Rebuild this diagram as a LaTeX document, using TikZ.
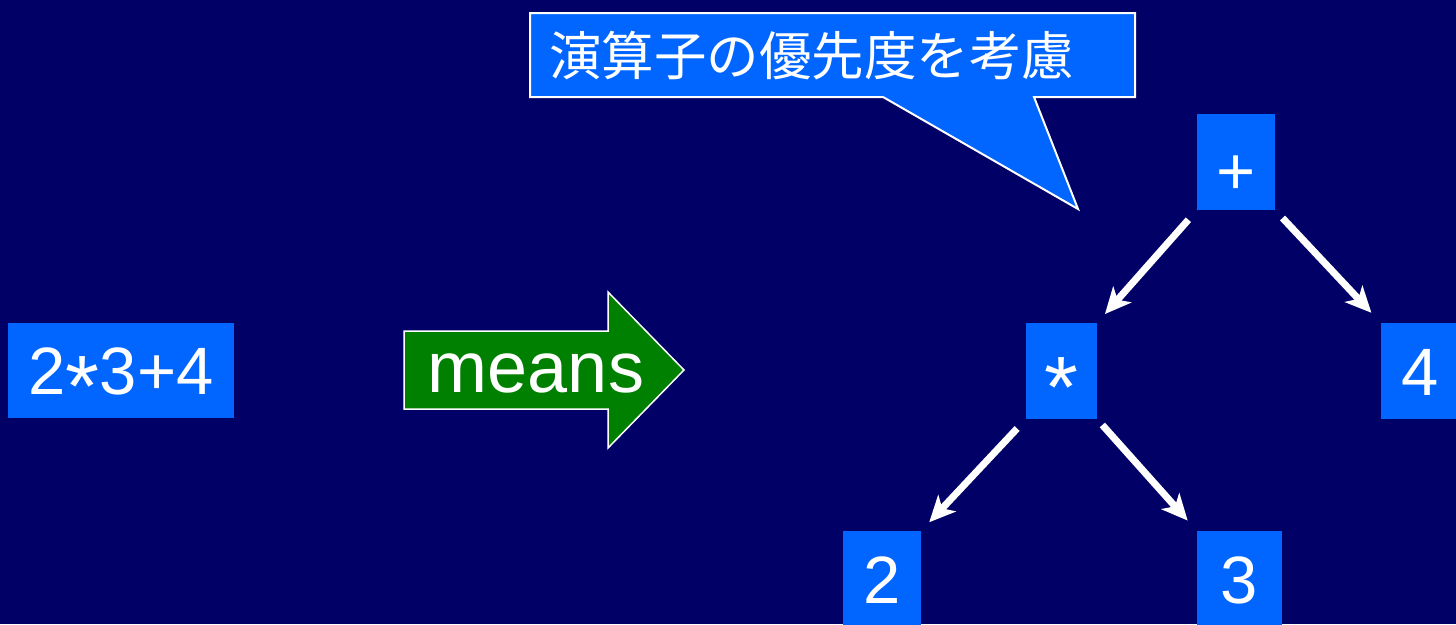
\documentclass[tikz,border=0pt]{standalone}
\usepackage{fontspec}
\usepackage{graphicx}
\usetikzlibrary{arrows.meta}
\newfontfamily\lsans{Liberation Sans}
\newfontfamily\cjk{Noto Sans CJK JP}
\definecolor{bgnavy}{HTML}{000066}
\definecolor{boxblue}{HTML}{0066FF}
\definecolor{arrowgreen}{HTML}{008000}
\newcommand{\bigast}{\raisebox{-22pt}{\scalebox{1.3}{*}}}
\tikzset{
  tbox/.style={fill=boxblue, text=white, inner sep=0pt, outer sep=0pt,
    minimum height=96pt, text height=48pt, text depth=0pt,
    font=\lsans\fontsize{67}{67}\selectfont, anchor=center},
  treearrow/.style={draw=white, line width=7pt,
    -{Stealth[length=26pt,width=24pt,inset=7pt]}},
}
\begin{document}
\begin{tikzpicture}[x=1pt,y=-1pt]
\useasboundingbox (0,0) rectangle (1456,624);
\clip (0,0) rectangle (1456,624);
\fill[bgnavy] (0,0) rectangle (1456,624);

% expression box
\node[tbox, minimum width=226pt, minimum height=95pt] (expr) at (121,370)
  {2\bigast 3+4};

% means arrow
\filldraw[fill=arrowgreen, draw=white, line width=1.5pt]
  (404,331) -- (608,331) -- (608,292) -- (684,370) -- (608,448)
  -- (608,409) -- (404,409) -- cycle;
\node[text=white, font=\lsans\fontsize{72}{72}\selectfont, anchor=base,
  inner sep=0pt] (means) at (536,392) {means};

% callout
\filldraw[fill=boxblue, draw=white, line width=2pt]
  (530,13) -- (1135,13) -- (1135,97) -- (1034,97) -- (1078,209)
  -- (883,97) -- (530,97) -- cycle;
\node[text=white, font=\cjk\fontsize{52.5}{52.5}\selectfont, anchor=west,
  inner sep=0pt] (note) at (549,56) {演算子の優先度を考慮};

% tree
\node[tbox, minimum width=78pt] (plus) at (1236,162) {\raisebox{-8pt}{+}};
\node[tbox, minimum width=71pt] (times) at (1061.5,371) {\bigast};
\node[tbox, minimum width=78pt] (four) at (1420,371) {4};
\node[tbox, minimum width=78pt] (two) at (882,579) {2};
\node[tbox, minimum width=85pt] (three) at (1239.5,579) {3};

\draw[treearrow, shorten <=13pt, shorten >=12pt] (plus.south west) -- (times.north east);
\draw[treearrow, shorten <=11pt, shorten >=14pt] (plus.south east) -- (four.north west);
\draw[treearrow, shorten <=13pt, shorten >=12pt] (times.south west) -- (two.north east);
\draw[treearrow, shorten <=8pt, shorten >=14pt] (times.south east) -- (three.north west);
\end{tikzpicture}
\end{document}
